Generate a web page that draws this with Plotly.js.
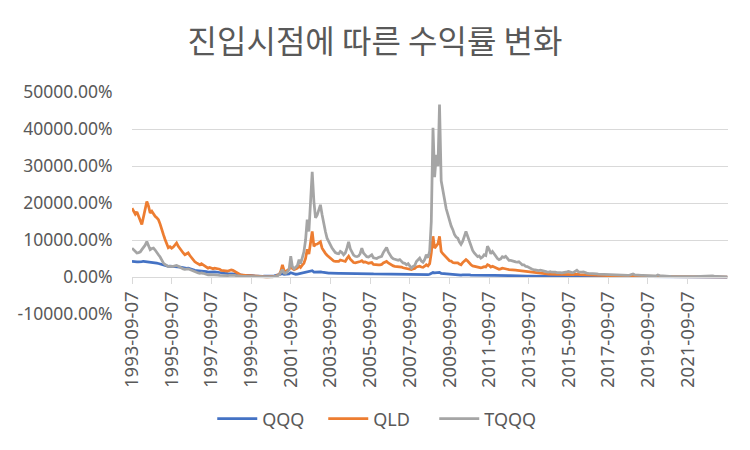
<!DOCTYPE html>
<html>
<head>
<meta charset="utf-8">
<script src="https://cdn.plot.ly/plotly-3.0.1.min.js"></script>
<style>
  html, body { margin: 0; padding: 0; background: #ffffff; }
  #chart { width: 750px; height: 450px; }
</style>
</head>
<body>
<div id="chart"></div>
<script>
// Monthly samples (entry on the 7th), Sep 1993 .. Sep 2023, return in %
const START_YEAR = 1993;
const START_MONTH = 9;

const qqq = [
  4200, 4100, 4200, 4100,                                                   // 1993
  4100, 4050, 4150, 4250, 4200, 4250, 4150, 4000, 3900, 3850, 3800, 3750,   // 1994
  3650, 3500, 3350, 3200, 3100, 3000, 2900, 2950, 2900, 2850, 2900, 2950,   // 1995
  2800, 2650, 2600, 2450, 2300, 2350, 2400, 2200, 2000, 1900, 1800, 1750,   // 1996
  1700, 1650, 1750, 1650, 1500, 1450, 1350, 1400, 1350, 1400, 1400, 1350,   // 1997
  1250, 1150, 1050, 1000, 1000, 950, 900, 950, 900, 850, 750, 650,          // 1998
  580, 560, 540, 500, 510, 480, 450, 450, 430, 390, 330, 270,               // 1999
  230, 190, 160, 200, 240, 220, 230, 210, 220, 270, 330, 420,               // 2000
  500, 560, 750, 900, 720, 700, 760, 820, 1150, 950, 780, 750,              // 2001
  800, 900, 850, 980, 1050, 1200, 1400, 1300, 1550, 1700, 1350, 1400,       // 2002
  1450, 1450, 1400, 1300, 1200, 1150, 1100, 1050, 1050, 1000, 960, 950,     // 2003
  940, 960, 980, 980, 960, 950, 1000, 1050, 1000, 950, 900, 880,            // 2004
  880, 890, 910, 940, 900, 890, 860, 850, 860, 870, 820, 810,               // 2005
  800, 810, 810, 810, 860, 900, 920, 880, 840, 800, 770, 760,               // 2006
  760, 750, 760, 720, 690, 680, 660, 670, 650, 600, 640, 660,               // 2007
  700, 720, 740, 690, 650, 660, 700, 660, 740, 950, 1200, 1100,             // 2008
  1100, 1100, 1250, 950, 900, 850, 780, 740, 700, 680, 650, 620,            // 2009
  610, 610, 570, 540, 580, 610, 600, 590, 550, 500, 480, 470,               // 2010
  450, 440, 450, 430, 440, 450, 430, 480, 470, 440, 450, 450,               // 2011
  420, 390, 370, 370, 400, 390, 380, 360, 350, 360, 370, 370,               // 2012
  350, 340, 340, 330, 300, 300, 280, 270, 260, 240, 220, 210,               // 2013
  200, 200, 190, 200, 190, 175, 165, 160, 155, 160, 148, 148,               // 2014
  175, 165, 165, 165, 160, 160, 155, 165, 170, 155, 150, 150,               // 2015
  165, 175, 160, 155, 155, 160, 145, 140, 138, 138, 137, 135,               // 2016
  128, 120, 115, 113, 108, 108, 104, 103, 100, 95, 92, 90,                  // 2017
  83, 86, 88, 88, 85, 80, 78, 75, 75, 82, 88, 100,                          // 2018
  92, 85, 80, 74, 78, 76, 70, 72, 70, 68, 62, 58,                           // 2019
  55, 52, 75, 62, 55, 48, 40, 33, 36, 36, 33, 28,                           // 2020
  26, 24, 26, 20, 21, 17, 13, 10, 9, 10, 4, 5,                              // 2021
  8, 15, 13, 25, 35, 45, 33, 28, 40, 45, 38, 42,                            // 2022
  35, 28, 22, 18, 10, 4, 0, 2, 0                                            // 2023
];

const qld = [
  18600, 17800, 17000, 17600,                                                         // 1993
  16500, 15600, 14200, 16300, 18000, 20400, 19200, 17300, 17800, 16900, 16400, 16000, // 1994
  15500, 14300, 13200, 11500, 10200, 8700, 7900, 8200, 7800, 8100, 8700, 9200,        // 1995
  8300, 7600, 7000, 6500, 6000, 6200, 6500, 5800, 5200, 4600, 4100, 3800,             // 1996
  3500, 3300, 3600, 3300, 2900, 2700, 2400, 2600, 2300, 2200, 2400, 2300,             // 1997
  2300, 2100, 1800, 1700, 1800, 1650, 1600, 1750, 1900, 1800, 1500, 1200,             // 1998
  900, 750, 600, 500, 480, 430, 380, 360, 320, 270, 190, 110,                         // 1999
  90, 40, 10, 50, 80, 50, 60, 60, 40, 80, 160, 280,                                   // 2000
  420, 700, 1500, 3300, 1700, 1500, 1800, 2100, 3000, 2300, 2000, 2200,               // 2001
  2400, 3000, 2600, 3200, 3700, 5000, 7500, 6200, 9600, 12300, 8300, 8800,            // 2002
  8900, 9200, 9500, 7800, 7000, 6400, 5900, 5500, 5000, 4500, 4300, 4200,             // 2003
  4100, 4200, 4600, 4400, 4300, 4200, 5000, 5600, 4800, 4300, 3900, 3800,             // 2004
  3900, 4000, 4200, 4400, 4000, 4100, 3800, 3700, 3800, 3900, 3400, 3300,             // 2005
  3200, 3300, 3300, 3400, 3800, 4100, 4200, 3800, 3500, 3200, 3000, 2900,             // 2006
  2900, 2800, 2900, 2700, 2500, 2400, 2300, 2400, 2200, 2000, 2200, 2300,             // 2007
  2700, 2800, 2900, 2700, 2600, 2900, 3300, 3000, 3600, 6500, 11000, 7800,            // 2008
  8500, 9000, 11000, 6900, 6300, 5800, 5100, 4800, 4400, 4300, 3900, 3800,            // 2009
  3700, 3800, 3500, 3300, 3900, 4300, 4700, 4300, 3700, 3300, 3000, 2900,             // 2010
  2800, 2600, 2700, 2500, 2600, 2800, 2700, 3300, 3100, 2700, 2900, 2700,             // 2011
  2500, 2300, 2100, 2200, 2400, 2300, 2300, 2100, 2000, 2000, 2050, 1950,             // 2012
  1850, 1800, 1750, 1700, 1550, 1500, 1400, 1350, 1300, 1200, 1150, 1100,             // 2013
  1050, 1000, 1000, 1050, 980, 900, 850, 830, 800, 820, 760, 750,                     // 2014
  740, 700, 700, 680, 650, 660, 640, 700, 720, 650, 620, 640,                         // 2015
  750, 800, 680, 650, 640, 660, 580, 560, 540, 540, 530, 510,                         // 2016
  480, 450, 420, 410, 380, 380, 360, 350, 340, 310, 300, 290,                         // 2017
  260, 280, 280, 290, 270, 250, 240, 230, 230, 270, 300, 380,                         // 2018
  320, 290, 270, 240, 260, 250, 220, 230, 220, 210, 190, 170,                         // 2019
  160, 150, 260, 190, 160, 130, 110, 90, 100, 100, 90, 80,                            // 2020
  75, 70, 80, 65, 70, 60, 55, 50, 50, 50, 40, 45,                                     // 2021
  60, 70, 65, 90, 120, 150, 120, 110, 140, 150, 130, 160,                             // 2022
  130, 110, 90, 80, 50, 30, 20, 25, 0                                                 // 2023
];

const tqqq = [
  7800, 7300, 6800, 6500,                                                             // 1993
  6600, 6800, 7400, 8000, 8600, 9600, 8700, 7400, 7700, 7800, 7300, 6800,             // 1994
  6000, 5400, 4600, 3800, 3400, 3000, 2800, 2900, 2800, 2900, 3000, 3100,             // 1995
  2900, 2600, 2400, 2200, 2050, 2100, 2200, 2000, 1800, 1550, 1350, 1200,             // 1996
  1100, 1000, 1100, 1000, 800, 700, 600, 650, 580, 540, 600, 560,                     // 1997
  520, 470, 420, 420, 430, 400, 380, 440, 500, 560, 460, 360,                         // 1998
  260, 230, 200, 170, 180, 160, 130, 130, 120, 100, 70, 40,                           // 1999
  25, 10, 0, 15, 25, 15, 20, 20, 15, 30, 80, 180,                                     // 2000
  320, 600, 1200, 2000, 1100, 1000, 1400, 2000, 5600, 2800, 2200, 2600,               // 2001
  3100, 4700, 3600, 5200, 6800, 10000, 15500, 12300, 21400, 28400, 20400, 16000,      // 2002
  16800, 18000, 19500, 16800, 14000, 12300, 10500, 9500, 8700, 7800, 7200, 6600,      // 2003
  6400, 6300, 6900, 6600, 6000, 6500, 7800, 9500, 7600, 6500, 5900, 5600,             // 2004
  5500, 5700, 6300, 7800, 6500, 6000, 5500, 5400, 5600, 6000, 5200, 5100,             // 2005
  5000, 5300, 5400, 5600, 6600, 7300, 8000, 6800, 6000, 5300, 4900, 4800,             // 2006
  4700, 4500, 4700, 4200, 3800, 3700, 3300, 3600, 3100, 2400, 2900, 3100,             // 2007
  4200, 4600, 5100, 4300, 4000, 4700, 6000, 5200, 7000, 15000, 40300, 27000,          // 2008
  33000, 30000, 46600, 26000, 24000, 21000, 18500, 17000, 15000, 13800, 12800, 11500, // 2009
  10800, 10500, 9500, 8800, 9600, 10800, 12300, 11000, 9600, 8000, 7200, 6500,        // 2010
  6000, 5500, 5700, 5100, 5400, 6000, 5800, 8300, 7500, 6300, 6900, 6300,             // 2011
  5500, 5000, 4700, 4900, 5500, 5300, 5600, 5000, 4500, 4500, 4300, 4300,             // 2012
  4100, 4000, 4100, 3700, 3300, 3300, 2900, 2800, 2500, 2300, 2100, 2000,             // 2013
  1900, 1800, 1750, 1850, 1700, 1550, 1450, 1400, 1350, 1450, 1300, 1350,             // 2014
  1300, 1200, 1250, 1200, 1150, 1200, 1150, 1400, 1500, 1300, 1200, 1250,             // 2015
  1500, 1800, 1400, 1300, 1300, 1350, 1100, 1050, 1000, 1000, 980, 950,               // 2016
  900, 820, 760, 740, 700, 690, 650, 640, 620, 560, 540, 520,                         // 2017
  460, 500, 520, 540, 500, 460, 440, 420, 420, 520, 600, 800,                         // 2018
  600, 520, 480, 420, 470, 450, 400, 420, 410, 390, 350, 320,                         // 2019
  300, 290, 560, 380, 320, 260, 220, 180, 200, 200, 180, 160,                         // 2020
  150, 140, 160, 120, 130, 110, 100, 90, 90, 90, 70, 80,                              // 2021
  100, 130, 120, 170, 220, 280, 220, 200, 260, 280, 250, 300,                         // 2022
  240, 200, 160, 140, 90, 50, 30, 40, 0                                               // 2023
];

const xTickDates = [
  '1993-09-07', '1995-09-07', '1997-09-07', '1999-09-07', '2001-09-07',
  '2003-09-07', '2005-09-07', '2007-09-07', '2009-09-07', '2011-09-07',
  '2013-09-07', '2015-09-07', '2017-09-07', '2019-09-07', '2021-09-07'
];

const yTickVals = [-10000, 0, 10000, 20000, 30000, 40000, 50000];
const yTickText = ['-10000.00%', '0.00%', '10000.00%', '20000.00%', '30000.00%', '40000.00%', '50000.00%'];

const COLORS = {
  qqq: '#4472C4',
  qld: '#ED7D31',
  tqqq: '#A5A5A5',
  text: '#595959',
  grid: '#D9D9D9',
};

// entry dates, one per month
const dates = qqq.map((_, i) => {
  const m = START_MONTH - 1 + i;
  const y = START_YEAR + Math.floor(m / 12);
  const mm = String((m % 12) + 1).padStart(2, '0');
  return `${y}-${mm}-07`;
});

function lineTrace(name, values, color) {
  return {
    x: dates,
    y: values,
    type: 'scatter',
    mode: 'lines',
    name: name,
    line: { color: color, width: 2.75 },
    hoverinfo: 'skip',
  };
}

const data = [
  lineTrace('QQQ', qqq, COLORS.qqq),
  lineTrace('QLD', qld, COLORS.qld),
  lineTrace('TQQQ', tqqq, COLORS.tqqq),
];

const layout = {
  width: 750,
  height: 450,
  margin: { l: 132, r: 22, t: 92, b: 136 },
  paper_bgcolor: '#ffffff',
  plot_bgcolor: '#ffffff',
  font: { family: 'Noto Sans, sans-serif', size: 17, color: COLORS.text },
  title: {
    text: '진입시점에 따른 수익률 변화',
    font: { family: 'Noto Sans CJK KR, sans-serif', size: 32, color: COLORS.text },
    x: 0.5,
    xref: 'container',
    xanchor: 'center',
    y: 1 - 42 / 450,
    yref: 'container',
    yanchor: 'middle',
  },
  showlegend: true,
  legend: {
    orientation: 'h',
    x: 0.505,
    xref: 'container',
    xanchor: 'center',
    y: 1 - 419 / 450,
    yref: 'container',
    yanchor: 'middle',
    itemwidth: 40,
    entrywidth: 56,
    entrywidthmode: 'pixels',
    font: { size: 18, color: COLORS.text },
  },
  xaxis: {
    type: 'date',
    range: ['1993-09-07', '2023-09-20'],
    anchor: 'free',
    position: 1 / 6,   // sits on the 0% line
    showline: true,
    linecolor: COLORS.grid,
    linewidth: 1,
    showgrid: false,
    zeroline: false,
    ticks: 'outside',
    ticklen: 6,
    tickcolor: COLORS.grid,
    tickangle: -90,
    tickvals: xTickDates,
    ticktext: xTickDates,
    tickfont: { size: 18.5, color: COLORS.text },
  },
  yaxis: {
    range: [-10000, 50000],
    tickvals: yTickVals,
    ticktext: yTickText,
    showgrid: true,
    gridcolor: COLORS.grid,
    gridwidth: 1,
    zeroline: false,
    showline: false,
    ticks: 'outside',
    ticklen: 15,
    tickcolor: 'rgba(0,0,0,0)',
    tickfont: { size: 17.5, color: COLORS.text },
  },
};

Plotly.newPlot('chart', data, layout, { displayModeBar: false, staticPlot: true });
</script>
</body>
</html>
